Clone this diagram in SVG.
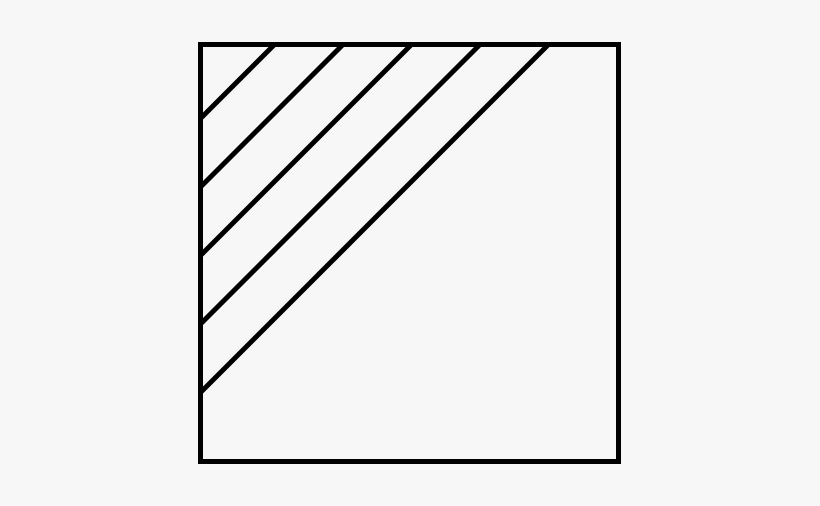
<svg xmlns="http://www.w3.org/2000/svg" width="820" height="506" viewBox="0 0 820 506">
<style>
.edge{stroke:#000;stroke-width:5;fill:none;stroke-linecap:butt}
</style>
<rect x="0" y="0" width="820" height="506" fill="#f7f7f7"/>
<g id="square">
<rect class="edge" x="200.5" y="44.5" width="418" height="417"/>
</g>
<g id="hatch">
<line class="edge" x1="274.5" y1="44.5" x2="200.5" y2="118.5"/>
<line class="edge" x1="343" y1="44.5" x2="200.5" y2="187"/>
<line class="edge" x1="411.5" y1="44.5" x2="200.5" y2="255.5"/>
<line class="edge" x1="480" y1="44.5" x2="200.5" y2="324"/>
<line class="edge" x1="548.5" y1="44.5" x2="200.5" y2="392.5"/>
</g>
</svg>
